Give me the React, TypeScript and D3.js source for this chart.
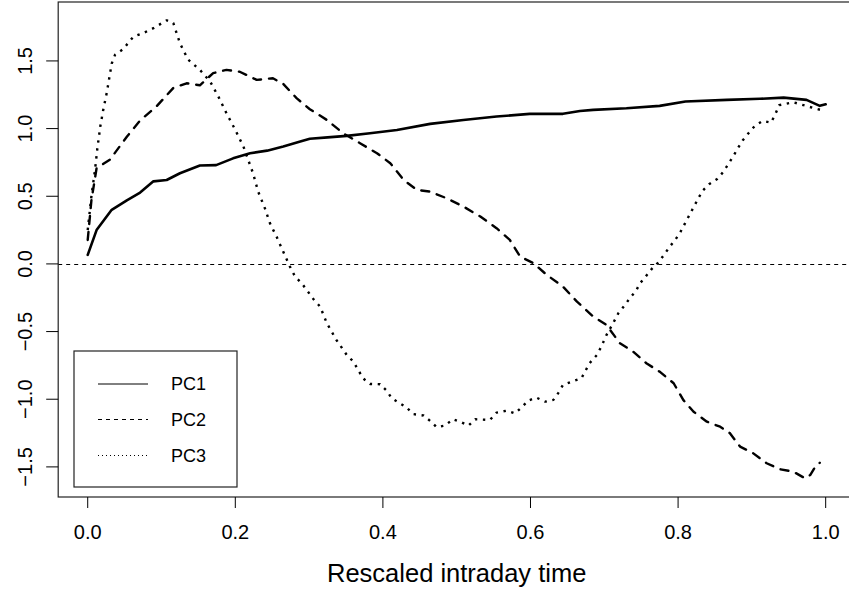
import React from "react";
import * as d3 from "d3";

const W = 849;
const H = 592;

const pc1: [number, number][] = [
  [0, 0.067], [0.012, 0.25], [0.0325, 0.4], [0.053, 0.47], [0.071, 0.527], [0.089, 0.61],
  [0.107, 0.62], [0.125, 0.67], [0.152, 0.727], [0.174, 0.73], [0.197, 0.78], [0.22, 0.818],
  [0.243, 0.837], [0.265, 0.867], [0.288, 0.904], [0.301, 0.925], [0.325, 0.935], [0.351, 0.946],
  [0.3825, 0.966], [0.419, 0.99], [0.464, 1.035], [0.509, 1.064], [0.554, 1.089], [0.599, 1.109],
  [0.644, 1.109], [0.667, 1.13], [0.685, 1.138], [0.73, 1.15], [0.775, 1.168], [0.81, 1.2],
  [0.866, 1.212], [0.911, 1.22], [0.943, 1.229], [0.974, 1.212], [0.992, 1.168], [1.0, 1.18],
];

const pc2: [number, number][] = [
  [0, 0.177], [0.005, 0.47], [0.012, 0.707], [0.03, 0.77], [0.053, 0.94], [0.071, 1.06],
  [0.093, 1.163], [0.116, 1.3], [0.134, 1.335], [0.152, 1.32], [0.17, 1.41], [0.188, 1.434],
  [0.206, 1.42], [0.229, 1.36], [0.251, 1.372], [0.265, 1.33], [0.283, 1.225], [0.301, 1.143],
  [0.324, 1.064], [0.346, 0.966], [0.369, 0.892], [0.392, 0.818], [0.41, 0.744], [0.428, 0.621],
  [0.446, 0.547], [0.464, 0.534], [0.486, 0.486], [0.509, 0.424], [0.532, 0.35], [0.554, 0.264],
  [0.572, 0.177], [0.586, 0.054], [0.604, 0.005], [0.622, -0.081], [0.644, -0.168], [0.663, -0.279],
  [0.685, -0.389], [0.703, -0.451], [0.721, -0.586], [0.739, -0.648], [0.757, -0.734], [0.775, -0.796],
  [0.794, -0.882], [0.807, -1.005], [0.821, -1.092], [0.839, -1.166], [0.857, -1.203], [0.87, -1.25],
  [0.884, -1.35], [0.902, -1.4], [0.92, -1.473], [0.938, -1.517], [0.956, -1.535], [0.972, -1.584],
  [0.979, -1.56], [0.986, -1.498], [0.992, -1.47],
];

const pc3: [number, number][] = [
  [0, 0.25], [0.005, 0.5], [0.01, 0.7], [0.013, 0.85], [0.017, 1.015], [0.021, 1.138],
  [0.026, 1.27], [0.0325, 1.48], [0.037, 1.545], [0.048, 1.587], [0.062, 1.68], [0.075, 1.705],
  [0.089, 1.742], [0.107, 1.8], [0.116, 1.78], [0.125, 1.63], [0.136, 1.51], [0.152, 1.434],
  [0.166, 1.347], [0.177, 1.237], [0.188, 1.114], [0.2, 0.99], [0.211, 0.867], [0.224, 0.67],
  [0.231, 0.534], [0.24, 0.412], [0.247, 0.3], [0.256, 0.2], [0.265, 0.09], [0.274, -0.02],
  [0.281, -0.094], [0.29, -0.143], [0.306, -0.261], [0.315, -0.316], [0.324, -0.438], [0.337, -0.562],
  [0.351, -0.673], [0.36, -0.722], [0.373, -0.845], [0.3825, -0.887], [0.396, -0.889], [0.405, -0.936],
  [0.412, -0.993], [0.432, -1.06], [0.441, -1.11], [0.455, -1.12], [0.464, -1.16], [0.473, -1.207],
  [0.484, -1.195], [0.495, -1.148], [0.504, -1.165], [0.516, -1.195], [0.525, -1.148], [0.545, -1.153],
  [0.554, -1.099], [0.568, -1.084], [0.579, -1.104], [0.588, -1.06], [0.597, -1.01], [0.608, -0.988],
  [0.62, -1.018], [0.631, -1.005], [0.638, -0.951], [0.644, -0.894], [0.656, -0.87], [0.669, -0.845],
  [0.68, -0.734], [0.69, -0.673], [0.696, -0.611], [0.703, -0.525], [0.712, -0.438], [0.719, -0.365],
  [0.728, -0.303], [0.735, -0.25], [0.743, -0.2], [0.748, -0.146], [0.756, -0.094], [0.764, -0.039],
  [0.773, 0.01], [0.781, 0.067], [0.788, 0.123], [0.796, 0.177], [0.803, 0.234], [0.809, 0.296],
  [0.815, 0.357], [0.821, 0.419], [0.827, 0.48], [0.833, 0.54], [0.842, 0.589], [0.853, 0.628],
  [0.861, 0.678], [0.868, 0.737], [0.875, 0.798], [0.881, 0.855], [0.888, 0.916], [0.896, 0.97],
  [0.904, 1.02], [0.915, 1.057], [0.926, 1.044], [0.932, 1.109], [0.937, 1.173], [0.956, 1.195],
  [0.986, 1.148], [0.997, 1.133],
];

const xTicks = [0, 0.2, 0.4, 0.6, 0.8, 1.0];
const yTicks = [-1.5, -1.0, -0.5, 0.0, 0.5, 1.0, 1.5];
const legendLabels = ["PC1", "PC2", "PC3"];
const xLabel = "Rescaled intraday time";

const xDataRange = [0, 1];
const yDataRange = [-1.587, 1.8];

const font = "'Liberation Sans', Arial, Helvetica, sans-serif";

export default function App() {
  const left = 58.2, right = 855.2, top = 2, bottom = 497;
  const xPad = (xDataRange[1] - xDataRange[0]) * 0.04;
  const yPad = (yDataRange[1] - yDataRange[0]) * 0.04;
  const x = d3.scaleLinear().domain([xDataRange[0] - xPad, xDataRange[1] + xPad]).range([left, right]);
  const y = d3.scaleLinear().domain([yDataRange[0] - yPad, yDataRange[1] + yPad]).range([bottom, top]);
  const line = d3.line<[number, number]>().x((d) => x(d[0])).y((d) => y(d[1]));

  const series = [
    { data: pc1, dash: "none", cap: "round" as const, w: 2.6, lDash: "none" },
    { data: pc2, dash: "8,8", cap: "round" as const, w: 2.4, lDash: "4,4" },
    { data: pc3, dash: "2.4,5.6", cap: "butt" as const, w: 2.4, lDash: "1,3" },
  ];

  const lgX0 = 74, lgX1 = 237, lgY0 = 351, lgY1 = 487;
  const lgRows = [384, 419.5, 455.5];
  const zeroY = Math.round(y(0)) + 0.5;

  return (
    <svg width={W} height={H} style={{ position: "absolute", left: 0, top: 0, background: "#fff" }} fontFamily={font}>
      <rect x={0} y={0} width={W} height={H} fill="#fff" />
      {/* zero line */}
      <line x1={left} x2={right} y1={zeroY} y2={zeroY} stroke="#000" strokeWidth={1} strokeDasharray="4,4" />
      {series.map((s, i) => (
        <path key={i} d={line(s.data) || ""} fill="none" stroke="#000" strokeWidth={s.w}
          strokeDasharray={s.dash} strokeLinecap={s.cap} strokeLinejoin="round" />
      ))}
      {/* box */}
      <rect x={left} y={top} width={right - left} height={bottom - top} fill="none" stroke="#222" strokeWidth={1.2} />
      {/* x axis */}
      {xTicks.map((t) => (
        <g key={"x" + t}>
          <line x1={x(t)} x2={x(t)} y1={bottom} y2={bottom + 11} stroke="#000" />
          <text x={x(t)} y={532} fontSize={20} textAnchor="middle" dominantBaseline="central">{t.toFixed(1)}</text>
        </g>
      ))}
      {/* y axis */}
      {yTicks.map((t) => (
        <g key={"y" + t}>
          <line x1={left - 12} x2={left} y1={y(t)} y2={y(t)} stroke="#000" />
          <text transform={`translate(25,${y(t)}) rotate(-90)`} fontSize={20} textAnchor="middle" dominantBaseline="central">
            {t < 0 ? "\u2212" + Math.abs(t).toFixed(1) : t.toFixed(1)}
          </text>
        </g>
      ))}
      <text x={(left + right) / 2} y={573} fontSize={25.5} textAnchor="middle" dominantBaseline="central">{xLabel}</text>
      {/* legend */}
      <rect x={lgX0} y={lgY0} width={lgX1 - lgX0} height={lgY1 - lgY0} fill="#fff" stroke="#222" strokeWidth={1.2} />
      {legendLabels.map((lab, i) => (
        <g key={lab}>
          <line x1={98} x2={148} y1={lgRows[i]} y2={lgRows[i]} stroke="#000" strokeWidth={1} strokeDasharray={series[i].lDash} />
          <text x={171} y={lgRows[i]} fontSize={18} dominantBaseline="central">{lab}</text>
        </g>
      ))}
    </svg>
  );
}
